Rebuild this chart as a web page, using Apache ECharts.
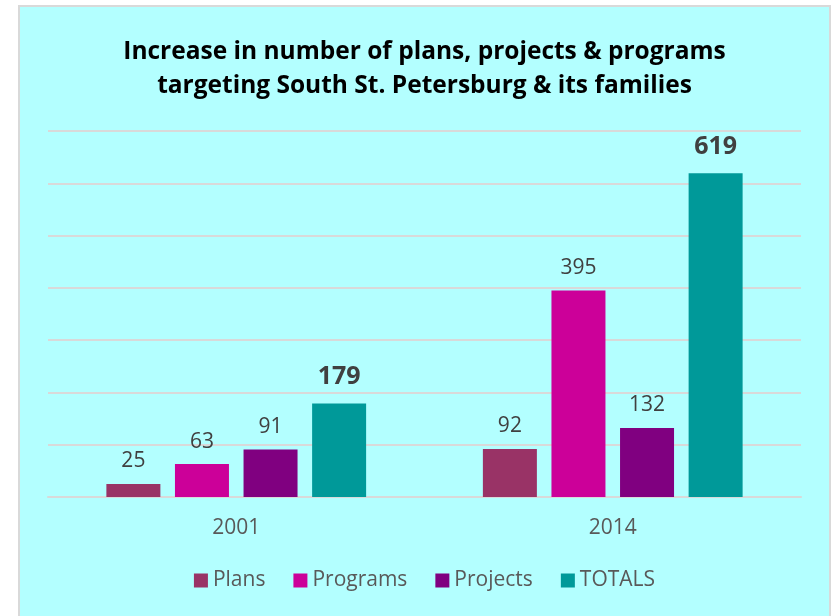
<!DOCTYPE html>
<html><head><meta charset="utf-8">
<script src="https://cdn.jsdelivr.net/npm/echarts@6/dist/echarts.min.js"></script>
<style>
html,body{margin:0;padding:0;background:#fff;width:831px;height:616px;overflow:hidden;position:relative;}
#box{position:absolute;left:18px;top:5px;width:813px;height:640px;box-sizing:border-box;background:#b3ffff;border:2px solid #d9d9d9;}
#chart{position:absolute;left:9px;top:0;width:831px;height:616px;}
</style></head>
<body>
<div id="box"></div>
<div id="chart"></div>
<script>
var categories = ['2001', '2014'];
var plans = [25, 92];
var programs = [63, 395];
var projects = [91, 132];
var totals = [179, 619];
var seriesNames = ['Plans', 'Programs', 'Projects', 'TOTALS'];
var colors = ['#993366', '#cc0099', '#800080', '#009999'];
var FONT = '"Open Sans", sans-serif';

var chart = echarts.init(document.getElementById('chart'), null, {renderer:'canvas'});
function mk(name, data, color, bold) {
  return {
    name: name, type: 'bar', data: data, barWidth: 54, barGap: '27%',
    itemStyle: {color: color},
    label: {
      show: true, position: 'top', distance: bold ? 14 : 12,
      color: '#404040', fontFamily: FONT,
      fontSize: bold ? 25 : 21, fontWeight: bold ? 'bold' : 'normal'
    }
  };
}
chart.setOption({
  backgroundColor: 'transparent',
  animation: false,
  color: colors,
  title: {
    text: 'Increase in number of plans, projects & programs\ntargeting South St. Petersburg & its families',
    left: 'center', top: 30,
    textStyle: {fontFamily: FONT, fontSize: 24.5, fontWeight: 'bold', color: '#000', lineHeight: 34}
  },
  legend: {
    bottom: 20, left: 'center', itemWidth: 14, itemHeight: 14, itemGap: 28,
    icon: 'rect',
    textStyle: {fontFamily: FONT, fontSize: 21, color: '#595959'},
    data: seriesNames
  },
  grid: {left: 39, right: 39, top: 131, bottom: 119},
  xAxis: {
    type: 'category', data: categories,
    axisLine: {show: true, lineStyle: {color: '#d9d9d9', width: 2}},
    axisTick: {show: false},
    axisLabel: {fontFamily: FONT, fontSize: 21, color: '#595959', margin: 21}
  },
  yAxis: {
    type: 'value', min: 0, max: 700, interval: 100,
    axisLabel: {show: false}, axisLine: {show: false}, axisTick: {show: false},
    splitLine: {lineStyle: {color: '#d9d9d9', width: 2}}
  },
  series: [
    mk(seriesNames[0], plans, colors[0], false),
    mk(seriesNames[1], programs, colors[1], false),
    mk(seriesNames[2], projects, colors[2], false),
    mk(seriesNames[3], totals, colors[3], true)
  ]
});
</script>
</body></html>
